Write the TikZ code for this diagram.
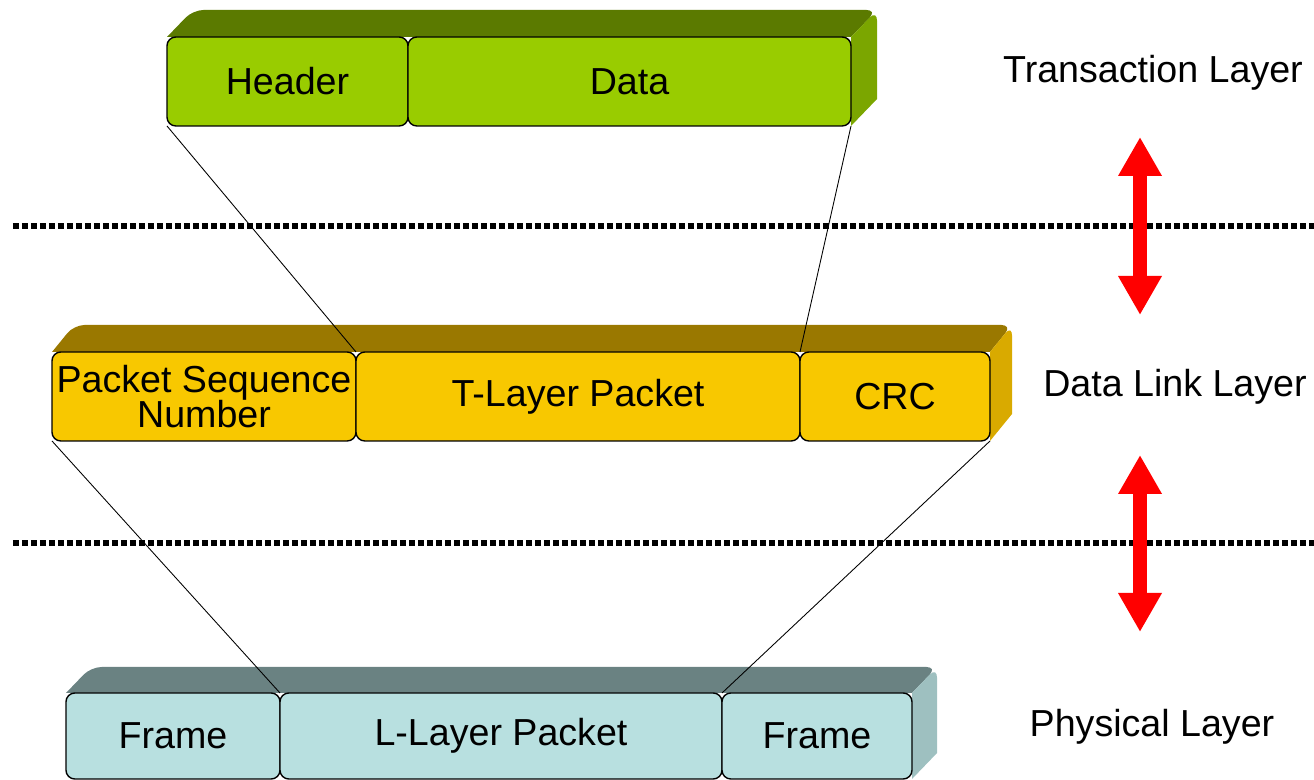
\documentclass[tikz,border=0pt]{standalone}
\usepackage{fontspec}
\setmainfont{Liberation Sans}
\usepackage{tikz}
\usetikzlibrary{positioning,arrows.meta,backgrounds}

\definecolor{tlfront}{HTML}{99CC00}
\definecolor{tltop}{HTML}{5B7A00}
\definecolor{tlside}{HTML}{7BA600}
\definecolor{dlfront}{HTML}{F8C800}
\definecolor{dltop}{HTML}{9A7800}
\definecolor{dlside}{HTML}{D9AA00}
\definecolor{phfront}{HTML}{B8E0E0}
\definecolor{phtop}{HTML}{6A8282}
\definecolor{phside}{HTML}{9EC0C0}

\begin{document}
\begin{tikzpicture}[
    cell/.style={draw=black, line width=0.8pt, rounded corners=5pt, minimum height=1.78cm, inner sep=0pt, outer sep=0pt, align=center, font=\fontsize{21.4}{20.4}\selectfont},
    tlcell/.style={cell, fill=tlfront},
    dlcell/.style={cell, fill=dlfront},
    phcell/.style={cell, fill=phfront, minimum height=1.72cm},
    lyr/.style={anchor=base, inner sep=0pt, font=\fontsize{21.4}{24}\selectfont},
    link/.style={line width=0.5pt},
    layerline/.style={line width=0.12cm, dash pattern=on 0.12cm off 0.06cm},
    updown/.style={draw=red, line width=0.28cm, {Triangle[width=0.82cm,length=0.78cm]}-{Triangle[width=0.82cm,length=0.78cm]}}
]
    \useasboundingbox (0,0) rectangle (26.28,15.6);

    \node[tlcell, minimum width=4.82cm, anchor=north west] (hdr) at (3.34,14.86) {Header};
    \node[tlcell, minimum width=8.86cm, right=0pt of hdr] (data) {Data};

    \node[dlcell, minimum width=6.08cm, anchor=north west] (psn) at (1.04,8.56) {Packet Sequence\\Number};
    \node[dlcell, minimum width=8.88cm, right=0pt of psn] (tlp) {T-Layer Packet};
    \node[dlcell, minimum width=3.8cm, right=0pt of tlp] (crc) {CRC};

    \node[phcell, minimum width=4.28cm, anchor=north west] (frl) at (1.32,1.74) {Frame};
    \node[phcell, minimum width=8.84cm, right=0pt of frl] (llp) {L-Layer Packet};
    \node[phcell, minimum width=3.8cm, right=0pt of llp] (frr) {Frame};

    \begin{scope}[on background layer]
        \fill[tltop] (hdr.north west) [rounded corners=6pt] -- ([shift={(0.52,0.54)}]hdr.north west) -- ([shift={(0.52,0.54)}]data.north east) [sharp corners] -- (data.north east) -- cycle;
        \fill[tlside] (data.north east) [rounded corners=6pt] -- ([shift={(0.52,0.54)}]data.north east) [sharp corners] -- ([shift={(0.52,0.54)}]data.south east) -- (data.south east) -- cycle;
        \fill[dltop] (psn.north west) [rounded corners=6pt] -- ([shift={(0.44,0.54)}]psn.north west) -- ([shift={(0.44,0.54)}]crc.north east) [sharp corners] -- (crc.north east) -- cycle;
        \fill[dlside] (crc.north east) [rounded corners=6pt] -- ([shift={(0.44,0.54)}]crc.north east) [sharp corners] -- ([shift={(0.44,0.54)}]crc.south east) -- (crc.south east) -- cycle;
        \fill[phtop] (frl.north west) [rounded corners=6pt] -- ([shift={(0.5,0.52)}]frl.north west) -- ([shift={(0.5,0.52)}]frr.north east) [sharp corners] -- (frr.north east) -- cycle;
        \fill[phside] (frr.north east) [rounded corners=6pt] -- ([shift={(0.5,0.52)}]frr.north east) [sharp corners] -- ([shift={(0.5,0.52)}]frr.south east) -- (frr.south east) -- cycle;
    \end{scope}

    \draw[layerline] (0.26,11.08) -- (26.28,11.08);
    \draw[layerline] (0.26,4.74) -- (26.28,4.74);

    \draw[link] (hdr.south west) -- (psn.north east);
    \draw[link] (data.south east) -- (crc.north west);
    \draw[link] (psn.south west) -- (frl.north east);
    \draw[link] (crc.south east) -- (frr.north west);

    \coordinate (up1) at (22.8,12.86);
    \coordinate (dn1) at (22.8,9.3);
    \coordinate (up2) at (22.8,6.5);
    \coordinate (dn2) at (22.8,2.96);
    \draw[updown] (up1) -- (dn1);
    \draw[updown] (up2) -- (dn2);

    \node[lyr] (tl) at (23.06,13.94) {Transaction Layer};
    \node[lyr] (dll) at (23.5,7.66) {Data Link Layer};
    \node[lyr] (phy) at (23.04,0.86) {Physical Layer};
\end{tikzpicture}
\end{document}
